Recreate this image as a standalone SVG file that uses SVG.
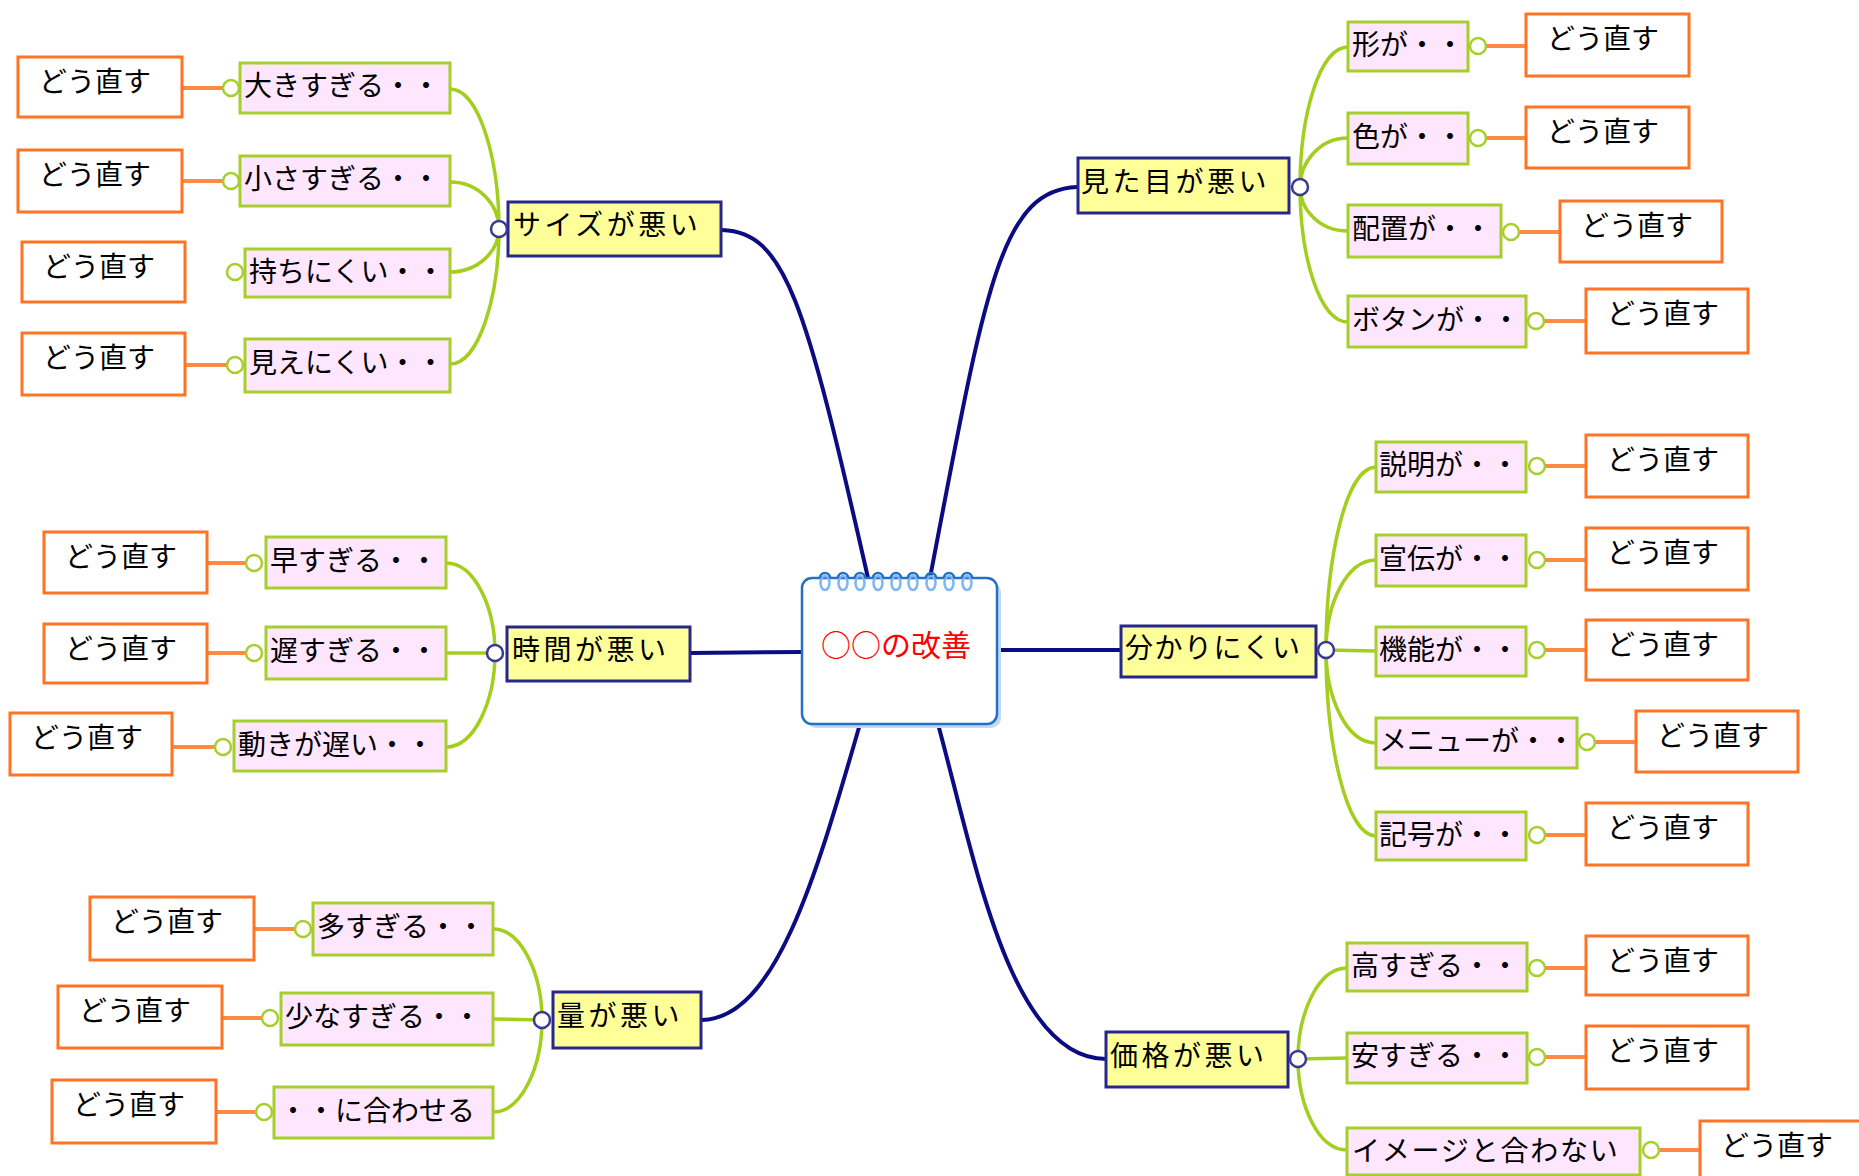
<svg xmlns="http://www.w3.org/2000/svg" width="1859" height="1176" viewBox="0 0 1859 1176">
<style>
text{font-family:"Noto Sans CJK JP","Noto Sans CJK SC",sans-serif;font-size:28px;fill:#000}
.main rect{fill:#FFFF99;stroke:#26268C;stroke-width:3}
.main text{letter-spacing:3.5px}
.sub rect{fill:#FFE6FF;stroke:#A6CF2C;stroke-width:3}
.fix rect{fill:#FFFFFF;stroke:#FF7424;stroke-width:3}
.cg{fill:#FFFFFF;stroke:#A6CF2C;stroke-width:2.5}
.cn{fill:#FFFFFF;stroke:#3A3A92;stroke-width:2.5}
.ln{fill:none;stroke:#0C0C82;stroke-width:4}
.lg{fill:none;stroke:#A3CE1E;stroke-width:3.5}
.lo{fill:none;stroke:#FF8A44;stroke-width:4}
.ring{fill:none;stroke:#7DB6F2;stroke-width:2.5}
.ringd{fill:none;stroke:#2470C6;stroke-width:2.5}
</style>
<rect width="1859" height="1176" fill="#FFFFFF"/>
<g id="connectors">
<path class="ln" d="M722 230 C785 232 805 300 868 578"/>
<path class="ln" d="M1077 187 C1000 190 985 290 930 578"/>
<path class="ln" d="M690 653 L802 652"/>
<path class="ln" d="M997 650 L1121 650"/>
<path class="ln" d="M702 1020 C775 1018 815 880 860 724"/>
<path class="ln" d="M938 724 C975 860 1010 1059 1106 1059"/>
<path class="lg" d="M450 89 C479 89 499 159 499 229"/>
<path class="lg" d="M450 182 C479 182 499 205 499 229"/>
<path class="lg" d="M450 272 C479 272 499 250 499 229"/>
<path class="lg" d="M450 364 C479 364 499 296 499 229"/>
<path class="lg" d="M446 563 C475 563 495 608 495 653"/>
<path class="lg" d="M446 653 L495 653"/>
<path class="lg" d="M446 747 C475 747 495 700 495 653"/>
<path class="lg" d="M493 929 C522 929 542 975 542 1020"/>
<path class="lg" d="M493 1019 L542 1020"/>
<path class="lg" d="M493 1112 C522 1112 542 1066 542 1020"/>
<path class="lg" d="M1348 47 C1319 47 1300 117 1300 187"/>
<path class="lg" d="M1348 138 C1319 138 1300 163 1300 187"/>
<path class="lg" d="M1348 231 C1319 231 1300 209 1300 187"/>
<path class="lg" d="M1348 322 C1319 322 1300 255 1300 187"/>
<path class="lg" d="M1376 467 C1346 467 1326 558 1326 650"/>
<path class="lg" d="M1376 560 C1346 560 1326 605 1326 650"/>
<path class="lg" d="M1376 651 L1326 650"/>
<path class="lg" d="M1376 743 C1346 743 1326 697 1326 650"/>
<path class="lg" d="M1376 836 C1346 836 1326 743 1326 650"/>
<path class="lg" d="M1347 968 C1318 968 1298 1013 1298 1059"/>
<path class="lg" d="M1347 1058 L1298 1059"/>
<path class="lg" d="M1347 1150 C1318 1150 1298 1105 1298 1059"/>
<path class="lo" d="M182 88 H231"/>
<path class="lo" d="M182 181 H231"/>
<path class="lo" d="M185 365 H235"/>
<path class="lo" d="M207 563 H254"/>
<path class="lo" d="M207 653 H254"/>
<path class="lo" d="M172 747 H223"/>
<path class="lo" d="M254 929 H303"/>
<path class="lo" d="M222 1018 H270"/>
<path class="lo" d="M216 1112 H264"/>
<path class="lo" d="M1478 46 H1526"/>
<path class="lo" d="M1478 138 H1526"/>
<path class="lo" d="M1511 232 H1560"/>
<path class="lo" d="M1536 321 H1586"/>
<path class="lo" d="M1537 466 H1586"/>
<path class="lo" d="M1537 560 H1586"/>
<path class="lo" d="M1537 650 H1586"/>
<path class="lo" d="M1587 742 H1636"/>
<path class="lo" d="M1537 835 H1586"/>
<path class="lo" d="M1537 968 H1586"/>
<path class="lo" d="M1537 1057 H1586"/>
<path class="lo" d="M1651 1150 H1700"/>
</g>
<g id="center">
<rect x="806" y="582" width="195" height="146" rx="10" fill="#C0DAF4"/>
<rect x="802" y="578" width="195" height="146" rx="10" fill="#FFFFFF" stroke="#2470C6" stroke-width="2.5"/>
<g>
<ellipse class="ring" cx="825" cy="583" rx="4.5" ry="7"/><path class="ringd" d="M820 578 A5 5 0 0 1 830 578"/>
<ellipse class="ring" cx="843" cy="583" rx="4.5" ry="7"/><path class="ringd" d="M838 578 A5 5 0 0 1 848 578"/>
<ellipse class="ring" cx="860" cy="583" rx="4.5" ry="7"/><path class="ringd" d="M855 578 A5 5 0 0 1 865 578"/>
<ellipse class="ring" cx="878" cy="583" rx="4.5" ry="7"/><path class="ringd" d="M873 578 A5 5 0 0 1 883 578"/>
<ellipse class="ring" cx="896" cy="583" rx="4.5" ry="7"/><path class="ringd" d="M891 578 A5 5 0 0 1 901 578"/>
<ellipse class="ring" cx="913" cy="583" rx="4.5" ry="7"/><path class="ringd" d="M908 578 A5 5 0 0 1 918 578"/>
<ellipse class="ring" cx="931" cy="583" rx="4.5" ry="7"/><path class="ringd" d="M926 578 A5 5 0 0 1 936 578"/>
<ellipse class="ring" cx="949" cy="583" rx="4.5" ry="7"/><path class="ringd" d="M944 578 A5 5 0 0 1 954 578"/>
<ellipse class="ring" cx="967" cy="583" rx="4.5" ry="7"/><path class="ringd" d="M962 578 A5 5 0 0 1 972 578"/>
</g>
<text x="896" y="656" text-anchor="middle" style="font-size:30px;fill:#FF0000">○○の改善</text>
</g>
<g id="topic-size" class="main"><rect x="508" y="202" width="213" height="54"/><text x="513" y="235">サイズが悪い</text><circle class="cn" cx="499" cy="229" r="8"/></g>
<g id="topic-time" class="main"><rect x="507" y="627" width="183" height="54"/><text x="512" y="660">時間が悪い</text><circle class="cn" cx="495" cy="653" r="8"/></g>
<g id="topic-amount" class="main"><rect x="553" y="992" width="148" height="56"/><text x="557" y="1026">量が悪い</text><circle class="cn" cx="542" cy="1020" r="8"/></g>
<g id="topic-look" class="main"><rect x="1078" y="158" width="211" height="55"/><text x="1081" y="192">見た目が悪い</text><circle class="cn" cx="1300" cy="187" r="8"/></g>
<g id="topic-clarity" class="main"><rect x="1121" y="626" width="195" height="51"/><text x="1125" y="658" style="letter-spacing:1.5px">分かりにくい</text><circle class="cn" cx="1326" cy="650" r="8"/></g>
<g id="topic-price" class="main"><rect x="1106" y="1032" width="182" height="55"/><text x="1110" y="1066">価格が悪い</text><circle class="cn" cx="1298" cy="1059" r="8"/></g>
<g id="sub-a1" class="sub"><rect x="240" y="63" width="210" height="50"/><text x="244" y="96">大きすぎる・・</text><circle class="cg" cx="231" cy="88" r="8"/></g>
<g id="sub-a2" class="sub"><rect x="240" y="156" width="210" height="50"/><text x="244" y="189">小さすぎる・・</text><circle class="cg" cx="231" cy="181" r="8"/></g>
<g id="sub-a3" class="sub"><rect x="245" y="249" width="205" height="48"/><text x="249" y="282">持ちにくい・・</text><circle class="cg" cx="235" cy="272" r="8"/></g>
<g id="sub-a4" class="sub"><rect x="245" y="339" width="205" height="53"/><text x="249" y="373">見えにくい・・</text><circle class="cg" cx="235" cy="365" r="8"/></g>
<g id="sub-b1" class="sub"><rect x="266" y="537" width="180" height="51"/><text x="270" y="571">早すぎる・・</text><circle class="cg" cx="254" cy="563" r="8"/></g>
<g id="sub-b2" class="sub"><rect x="266" y="627" width="180" height="52"/><text x="270" y="661">遅すぎる・・</text><circle class="cg" cx="254" cy="653" r="8"/></g>
<g id="sub-b3" class="sub"><rect x="234" y="721" width="212" height="50"/><text x="238" y="755">動きが遅い・・</text><circle class="cg" cx="223" cy="747" r="8"/></g>
<g id="sub-c1" class="sub"><rect x="313" y="903" width="180" height="52"/><text x="317" y="937">多すぎる・・</text><circle class="cg" cx="303" cy="929" r="8"/></g>
<g id="sub-c2" class="sub"><rect x="281" y="993" width="212" height="52"/><text x="285" y="1027">少なすぎる・・</text><circle class="cg" cx="270" cy="1018" r="8"/></g>
<g id="sub-c3" class="sub"><rect x="274" y="1087" width="219" height="51"/><text x="279" y="1121">・・に合わせる</text><circle class="cg" cx="264" cy="1112" r="8"/></g>
<g id="sub-d1" class="sub"><rect x="1348" y="22" width="120" height="49"/><text x="1352" y="55">形が・・</text><circle class="cg" cx="1478" cy="46" r="8"/></g>
<g id="sub-d2" class="sub"><rect x="1348" y="113" width="120" height="51"/><text x="1352" y="147">色が・・</text><circle class="cg" cx="1478" cy="138" r="8"/></g>
<g id="sub-d3" class="sub"><rect x="1348" y="205" width="153" height="52"/><text x="1352" y="239">配置が・・</text><circle class="cg" cx="1511" cy="232" r="8"/></g>
<g id="sub-d4" class="sub"><rect x="1348" y="296" width="178" height="51"/><text x="1352" y="330">ボタンが・・</text><circle class="cg" cx="1536" cy="321" r="8"/></g>
<g id="sub-e1" class="sub"><rect x="1376" y="442" width="150" height="50"/><text x="1379" y="475">説明が・・</text><circle class="cg" cx="1537" cy="466" r="8"/></g>
<g id="sub-e2" class="sub"><rect x="1376" y="535" width="150" height="51"/><text x="1379" y="569">宣伝が・・</text><circle class="cg" cx="1537" cy="560" r="8"/></g>
<g id="sub-e3" class="sub"><rect x="1376" y="627" width="150" height="49"/><text x="1379" y="660">機能が・・</text><circle class="cg" cx="1537" cy="650" r="8"/></g>
<g id="sub-e4" class="sub"><rect x="1376" y="718" width="201" height="50"/><text x="1379" y="751">メニューが・・</text><circle class="cg" cx="1587" cy="742" r="8"/></g>
<g id="sub-e5" class="sub"><rect x="1376" y="812" width="150" height="48"/><text x="1379" y="845">記号が・・</text><circle class="cg" cx="1537" cy="835" r="8"/></g>
<g id="sub-f1" class="sub"><rect x="1347" y="943" width="180" height="48"/><text x="1351" y="976">高すぎる・・</text><circle class="cg" cx="1537" cy="968" r="8"/></g>
<g id="sub-f2" class="sub"><rect x="1347" y="1033" width="180" height="50"/><text x="1351" y="1066">安すぎる・・</text><circle class="cg" cx="1537" cy="1057" r="8"/></g>
<g id="sub-f3" class="sub"><rect x="1347" y="1128" width="293" height="47"/><text x="1352" y="1161" style="letter-spacing:1.8px">イメージと合わない</text><circle class="cg" cx="1651" cy="1150" r="8"/></g>
<g id="fix-a1" class="fix"><rect x="18" y="57" width="164" height="60"/><text x="39" y="92">どう直す</text></g>
<g id="fix-a2" class="fix"><rect x="18" y="150" width="164" height="62"/><text x="39" y="185">どう直す</text></g>
<g id="fix-a3" class="fix"><rect x="22" y="242" width="163" height="60"/><text x="43" y="277">どう直す</text></g>
<g id="fix-a4" class="fix"><rect x="22" y="333" width="163" height="62"/><text x="43" y="368">どう直す</text></g>
<g id="fix-b1" class="fix"><rect x="44" y="532" width="163" height="61"/><text x="65" y="567">どう直す</text></g>
<g id="fix-b2" class="fix"><rect x="44" y="624" width="163" height="59"/><text x="65" y="659">どう直す</text></g>
<g id="fix-b3" class="fix"><rect x="10" y="713" width="162" height="62"/><text x="31" y="748">どう直す</text></g>
<g id="fix-c1" class="fix"><rect x="90" y="897" width="164" height="63"/><text x="111" y="932">どう直す</text></g>
<g id="fix-c2" class="fix"><rect x="58" y="986" width="164" height="62"/><text x="79" y="1021">どう直す</text></g>
<g id="fix-c3" class="fix"><rect x="52" y="1080" width="164" height="63"/><text x="73" y="1115">どう直す</text></g>
<g id="fix-d1" class="fix"><rect x="1526" y="14" width="163" height="62"/><text x="1547" y="49">どう直す</text></g>
<g id="fix-d2" class="fix"><rect x="1526" y="107" width="163" height="61"/><text x="1547" y="142">どう直す</text></g>
<g id="fix-d3" class="fix"><rect x="1560" y="201" width="162" height="61"/><text x="1581" y="236">どう直す</text></g>
<g id="fix-d4" class="fix"><rect x="1586" y="289" width="162" height="64"/><text x="1607" y="324">どう直す</text></g>
<g id="fix-e1" class="fix"><rect x="1586" y="435" width="162" height="62"/><text x="1607" y="470">どう直す</text></g>
<g id="fix-e2" class="fix"><rect x="1586" y="528" width="162" height="62"/><text x="1607" y="563">どう直す</text></g>
<g id="fix-e3" class="fix"><rect x="1586" y="620" width="162" height="60"/><text x="1607" y="655">どう直す</text></g>
<g id="fix-e4" class="fix"><rect x="1636" y="711" width="162" height="61"/><text x="1657" y="746">どう直す</text></g>
<g id="fix-e5" class="fix"><rect x="1586" y="803" width="162" height="62"/><text x="1607" y="838">どう直す</text></g>
<g id="fix-f1" class="fix"><rect x="1586" y="936" width="162" height="59"/><text x="1607" y="971">どう直す</text></g>
<g id="fix-f2" class="fix"><rect x="1586" y="1026" width="162" height="63"/><text x="1607" y="1061">どう直す</text></g>
<g id="fix-f3" class="fix"><rect x="1700" y="1121" width="166" height="64"/><text x="1721" y="1156">どう直す</text></g>
</svg>
